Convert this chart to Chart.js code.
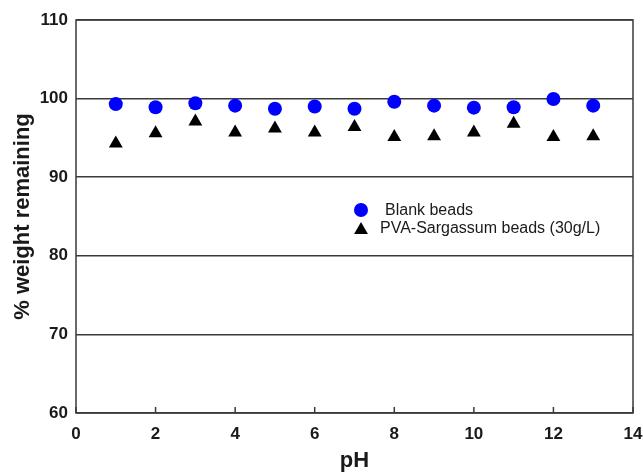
<!DOCTYPE html>
<html>
<head>
<meta charset="utf-8">
<script src="https://cdn.jsdelivr.net/npm/chart.js@4.4.1/dist/chart.umd.min.js"></script>
<style>
  html, body { margin: 0; padding: 0; background: #fff; }
  #wrap { width: 643px; height: 473px; position: relative; }
</style>
</head>
<body>
<div id="wrap"><canvas id="chart"></canvas></div>
<script>
const phValues = [1, 2, 3, 4, 5, 6, 7, 8, 9, 10, 11, 12, 13];
const blankBeads = [99.3, 98.9, 99.4, 99.1, 98.7, 99.0, 98.7, 99.6, 99.1, 98.85, 98.9, 99.95, 99.1];
const pvaBeads = [94.3, 95.6, 97.1, 95.7, 96.2, 95.7, 96.4, 95.1, 95.2, 95.7, 96.8, 95.1, 95.2];
const seriesNames = ['Blank beads', 'PVA-Sargassum beads (30g/L)'];

const lineColor = '#3a3a3a';
const textColor = '#1a1a1a';
const fontFamily = '"Liberation Sans", Arial, sans-serif';

const toPoints = (ys) => phValues.map((x, i) => ({ x, y: ys[i] }));

// frame round the plot and short inward ticks on the pH axis
const framePlugin = {
    id: 'frame',
    beforeDatasetsDraw(chart) {
        const { ctx, chartArea: a, scales } = chart;
        ctx.save();
        ctx.strokeStyle = lineColor;
        ctx.lineWidth = 1.5;
        ctx.strokeRect(a.left, a.top, a.right - a.left, a.bottom - a.top);
        ctx.beginPath();
        scales.x.ticks.forEach(t => {
            const px = scales.x.getPixelForValue(t.value);
            ctx.moveTo(px, a.bottom);
            ctx.lineTo(px, a.bottom - 6);
        });
        ctx.stroke();
        ctx.restore();
    }
};

// legend sits inside the plot, markers drawn like the data points
const legendPlugin = {
    id: 'innerLegend',
    afterDraw(chart) {
        const { ctx } = chart;
        ctx.save();
        ctx.font = '16px ' + fontFamily;
        ctx.textBaseline = 'middle';

        ctx.fillStyle = '#0000ff';
        ctx.beginPath();
        ctx.arc(361, 210, 7, 0, Math.PI * 2);
        ctx.fill();
        ctx.fillStyle = textColor;
        ctx.fillText(seriesNames[0], 385, 211);

        const r = 8, cx = 361, cy = 230;
        ctx.fillStyle = '#000';
        ctx.beginPath();
        ctx.moveTo(cx, cy - r);
        ctx.lineTo(cx + r * 0.866, cy + r / 2);
        ctx.lineTo(cx - r * 0.866, cy + r / 2);
        ctx.closePath();
        ctx.fill();
        ctx.fillStyle = textColor;
        ctx.fillText(seriesNames[1], 380, 229);
        ctx.restore();
    }
};

new Chart(document.getElementById('chart'), {
    type: 'scatter',
    data: {
        datasets: [{
            label: seriesNames[0],
            data: toPoints(blankBeads),
            pointStyle: 'circle',
            pointRadius: 7,
            pointHoverRadius: 7,
            backgroundColor: '#0000ff',
            borderColor: '#0000ff',
            borderWidth: 0
        }, {
            label: seriesNames[1],
            data: toPoints(pvaBeads),
            pointStyle: 'triangle',
            pointRadius: 8,
            pointHoverRadius: 8,
            backgroundColor: '#000',
            borderColor: '#000',
            borderWidth: 0
        }]
    },
    options: {
        responsive: true,
        maintainAspectRatio: false,
        animation: false,
        layout: { padding: { top: 20, right: 10, left: 0, bottom: 0 } },
        plugins: { legend: { display: false }, tooltip: { enabled: false } },
        scales: {
            x: {
                type: 'linear',
                min: 0, max: 14,
                ticks: { stepSize: 2, color: textColor, padding: 3, font: { family: fontFamily, size: 17, weight: 'bold' } },
                grid: { display: false },
                border: { display: false },
                title: { display: true, text: 'pH', color: textColor, padding: { top: 0, bottom: -1 }, font: { family: fontFamily, size: 22, weight: 'bold' } },
                afterFit: (s) => { s.height = 60; s.paddingLeft = 0; s.paddingRight = 0; }
            },
            y: {
                min: 60, max: 110,
                ticks: { stepSize: 10, color: textColor, padding: 8, font: { family: fontFamily, size: 17, weight: 'bold' } },
                grid: { color: lineColor, lineWidth: 1.5, drawTicks: false },
                border: { display: false },
                title: { display: true, text: '% weight remaining', color: textColor, padding: { top: 10, bottom: 0 }, font: { family: fontFamily, size: 22, weight: 'bold' } },
                afterFit: (s) => { s.width = 76; s.paddingTop = 0; s.paddingBottom = 0; }
            }
        }
    },
    plugins: [framePlugin, legendPlugin]
});
</script>
</body>
</html>
